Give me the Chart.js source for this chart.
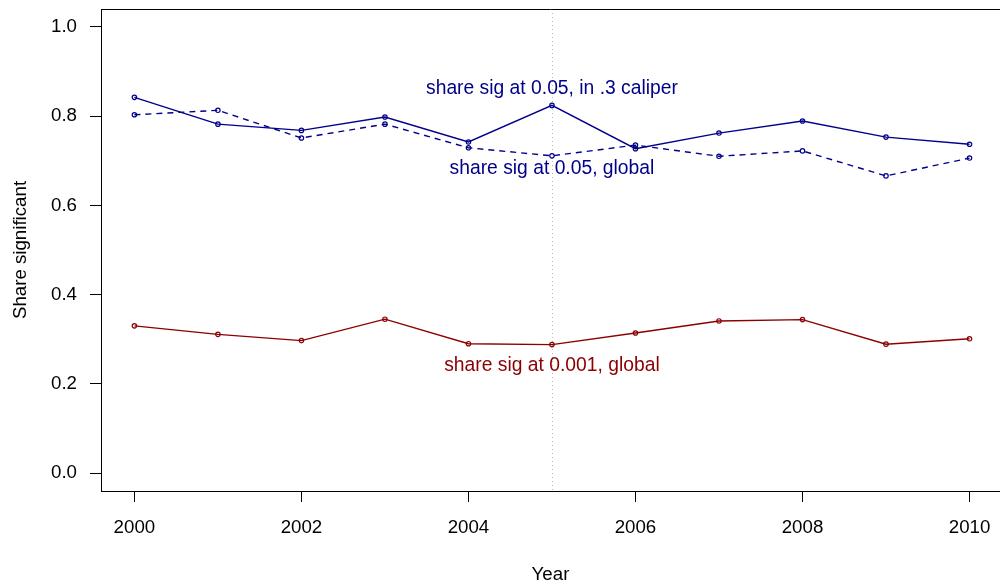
<!DOCTYPE html>
<html>
<head>
<meta charset="utf-8">
<script src="https://cdn.jsdelivr.net/npm/chart.js@4"></script>
<style>
  html, body { margin: 0; padding: 0; background: #fff; overflow: hidden; }
  #c { display: block; }
</style>
</head>
<body>
<canvas id="c" width="1000" height="586"></canvas>
<script>
// ---- data ----
const years = [2000, 2001, 2002, 2003, 2004, 2005, 2006, 2007, 2008, 2009, 2010];
const shareCaliper05 = [0.842, 0.782, 0.768, 0.798, 0.742, 0.824, 0.727, 0.762, 0.789, 0.753, 0.737];
const shareGlobal05  = [0.803, 0.813, 0.751, 0.782, 0.729, 0.711, 0.735, 0.710, 0.722, 0.666, 0.706];
const shareGlobal001 = [0.330, 0.311, 0.297, 0.345, 0.290, 0.288, 0.314, 0.341, 0.344, 0.289, 0.301];
const xTicks = [2000, 2002, 2004, 2006, 2008, 2010];
const yTicks = [0.0, 0.2, 0.4, 0.6, 0.8, 1.0];
const markerYear = 2005;
const seriesLabels = [
  { text: 'share sig at 0.05, in .3 caliper', x: 2005, y: 0.861, color: '#00008B' },
  { text: 'share sig at 0.05, global',        x: 2005, y: 0.682, color: '#00008B' },
  { text: 'share sig at 0.001, global',       x: 2005, y: 0.241, color: '#8B0000' }
];

const FONT = '"Liberation Sans", Arial, Helvetica, sans-serif';
const FS = 18.7;
const FS_LABEL = 19.3;
const BLUE = '#00008B';
const RED = '#8B0000';

function pts(vals) { return years.map((y, i) => ({ x: y, y: vals[i] })); }
function zeroPad(s) { s.paddingTop = 0; s.paddingBottom = 0; s.paddingLeft = 0; s.paddingRight = 0; }

const decor = {
  id: 'decor',
  beforeDatasetsDraw(chart) {
    const { ctx, chartArea: a, scales: { x } } = chart;
    const px = Math.round(x.getPixelForValue(markerYear)) + 0.5;
    ctx.save();
    ctx.strokeStyle = '#b8b8b8';
    ctx.lineWidth = 1;
    ctx.setLineDash([1, 3]);
    ctx.beginPath();
    ctx.moveTo(px, a.top);
    ctx.lineTo(px, a.bottom);
    ctx.stroke();
    ctx.restore();
  },
  afterDraw(chart) {
    const { ctx, chartArea: a, scales: { x, y } } = chart;
    ctx.save();
    ctx.strokeStyle = '#000';
    ctx.lineWidth = 1;
    ctx.beginPath();
    ctx.moveTo(a.left, Math.round(a.top) + 0.5);
    ctx.lineTo(a.right, Math.round(a.top) + 0.5);
    ctx.stroke();
    ctx.font = FS_LABEL + 'px ' + FONT;
    ctx.textAlign = 'center';
    ctx.textBaseline = 'middle';
    seriesLabels.forEach(l => {
      ctx.fillStyle = l.color;
      ctx.fillText(l.text, x.getPixelForValue(l.x), y.getPixelForValue(l.y));
    });
    ctx.restore();
  }
};

const pointOpts = (color) => ({
  borderColor: color,
  borderWidth: 1.4,
  pointRadius: 2.2,
  pointBorderWidth: 1.2,
  pointBackgroundColor: 'rgba(0,0,0,0)',
  pointBorderColor: color,
  tension: 0,
  fill: false
});

new Chart(document.getElementById('c'), {
  type: 'line',
  data: {
    datasets: [
      Object.assign({ label: 'share sig at 0.05, in .3 caliper', data: pts(shareCaliper05) }, pointOpts(BLUE)),
      Object.assign({ label: 'share sig at 0.05, global', data: pts(shareGlobal05), borderDash: [6, 5] }, pointOpts(BLUE)),
      Object.assign({ label: 'share sig at 0.001, global', data: pts(shareGlobal001) }, pointOpts(RED))
    ]
  },
  options: {
    responsive: false,
    animation: false,
    devicePixelRatio: 1,
    layout: { autoPadding: false, padding: { top: 9, right: 0, left: 0, bottom: 0 } },
    plugins: { legend: { display: false }, tooltip: { enabled: false } },
    scales: {
      x: {
        type: 'linear',
        min: 1999.6,
        max: 2010.365,
        afterFit(s) { s.height = 95; zeroPad(s); },
        afterBuildTicks(s) { s.ticks = xTicks.map(v => ({ value: v })); },
        grid: { display: true, drawOnChartArea: false, drawTicks: true, tickLength: 11, color: '#000', lineWidth: 1 },
        border: { display: true, color: '#000', width: 1 },
        ticks: {
          color: '#000', padding: 15, maxRotation: 0, autoSkip: false,
          font: { family: FONT, size: FS },
          callback: v => String(v)
        },
        title: {
          display: true, text: 'Year', color: '#000',
          font: { family: FONT, size: FS }, padding: { top: 0, bottom: 0 }
        }
      },
      y: {
        type: 'linear',
        min: -0.04,
        max: 1.04,
        afterFit(s) { s.width = 101; zeroPad(s); },
        afterBuildTicks(s) { s.ticks = yTicks.map(v => ({ value: v })); },
        grid: { display: true, drawOnChartArea: false, drawTicks: true, tickLength: 11, color: '#000', lineWidth: 1 },
        border: { display: true, color: '#000', width: 1 },
        ticks: {
          color: '#000', padding: 13, autoSkip: false,
          font: { family: FONT, size: FS },
          callback: v => Number(v).toFixed(1)
        },
        title: {
          display: true, text: 'Share significant', color: '#000',
          font: { family: FONT, size: FS }, padding: { top: 10, bottom: 0 }
        }
      }
    }
  },
  plugins: [decor]
});
</script>
</body>
</html>
